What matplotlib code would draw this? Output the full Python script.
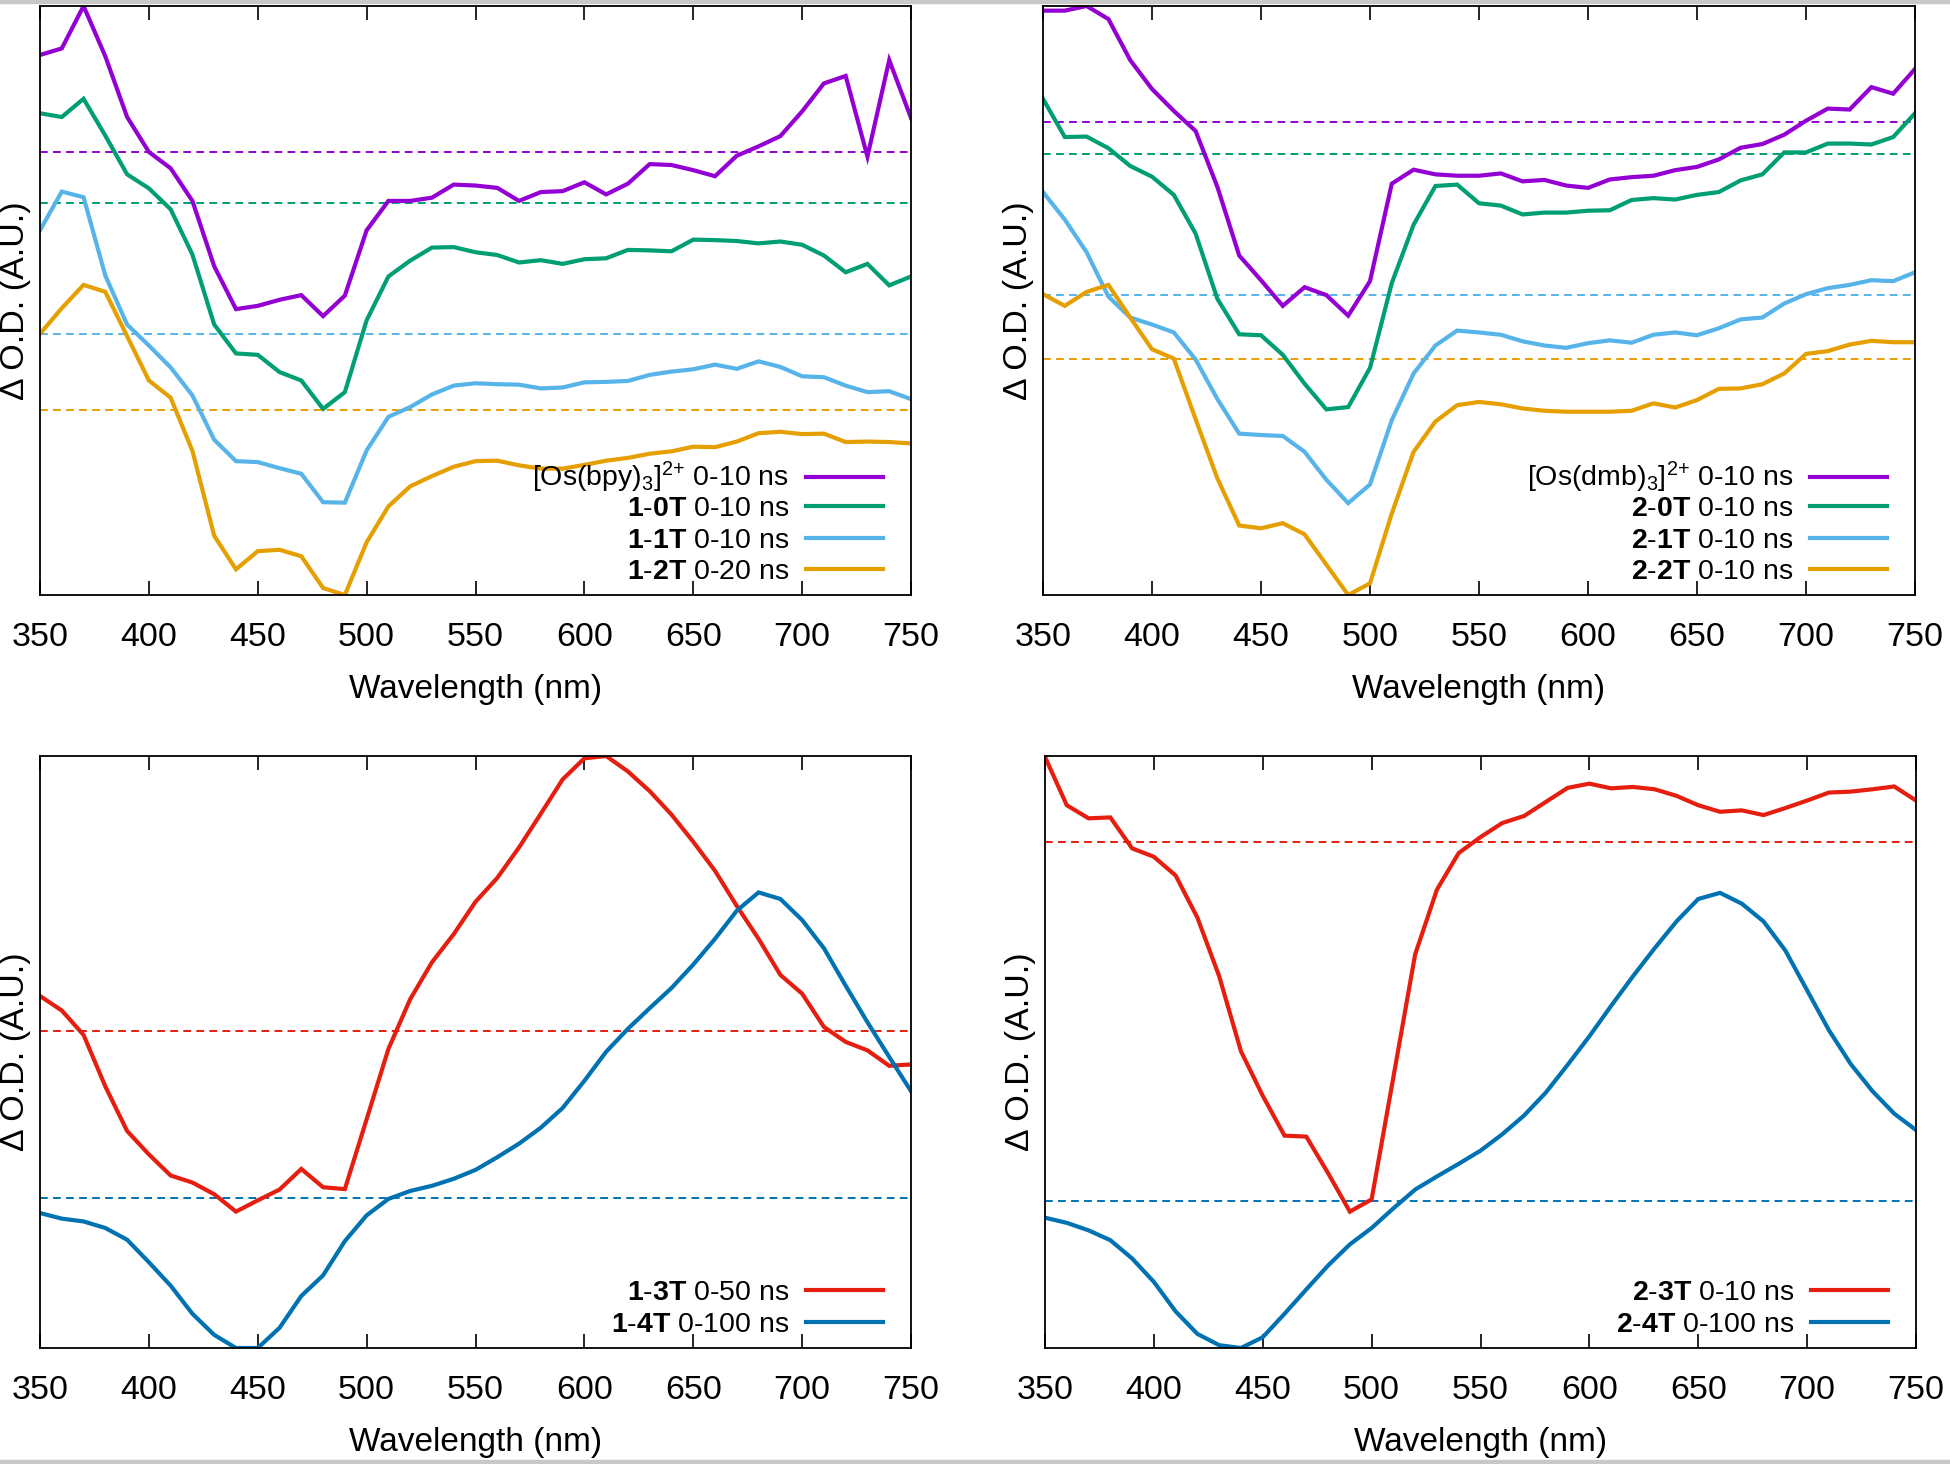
import matplotlib
matplotlib.use('Agg')
import matplotlib.pyplot as plt
from matplotlib.patches import Rectangle
from matplotlib.legend import Legend

plt.rcParams['font.family'] = ['Liberation Sans', 'DejaVu Sans']
plt.rcParams['mathtext.fontset'] = 'custom'
plt.rcParams['mathtext.rm'] = 'Liberation Sans'
plt.rcParams['mathtext.it'] = 'Liberation Sans:italic'
plt.rcParams['mathtext.bf'] = 'Liberation Sans:bold'
plt.rcParams['mathtext.default'] = 'regular'

# ---------------- data ----------------
wavelength = list(range(350, 751, 10))

# Panel A (top-left)
os_bpy = [115.8, 117.2, 126.3, 115.5, 102.5, 95.0, 91.5, 84.5, 70.5, 61.3,
          62.0, 63.3, 64.3, 59.8, 64.2, 78.2, 84.5, 84.5, 85.2, 88.0,
          87.8, 87.3, 84.5, 86.4, 86.6, 88.5, 85.9, 88.2, 92.4, 92.2,
          91.1, 89.8, 94.2, 96.2, 98.4, 103.7, 109.7, 111.3, 94.0, 114.7,
          102.3]
t1_0 = [103.3, 102.5, 106.4, 98.5, 90.2, 87.2, 82.7, 73.0, 58.0, 51.8,
        51.5, 47.8, 46.0, 39.9, 43.5, 58.9, 68.3, 71.7, 74.5, 74.6,
        73.5, 72.9, 71.3, 71.8, 71.0, 72.0, 72.2, 74.0, 73.9, 73.7,
        76.2, 76.1, 75.9, 75.4, 75.8, 75.1, 72.8, 69.2, 71.0, 66.4,
        68.3]
t1_1 = [78.2, 86.5, 85.3, 68.5, 58.0, 53.5, 48.8, 42.8, 33.3, 28.7,
        28.5, 27.2, 26.0, 19.9, 19.8, 31.0, 38.2, 40.3, 43.0, 44.9,
        45.4, 45.2, 45.1, 44.3, 44.5, 45.6, 45.7, 45.9, 47.2, 47.9,
        48.4, 49.4, 48.5, 50.1, 48.9, 46.9, 46.7, 44.9, 43.5, 43.7,
        42.0]
t1_2 = [56.0, 61.5, 66.5, 65.0, 55.5, 46.0, 42.3, 30.9, 12.7, 5.5,
        9.4, 9.7, 8.3, 1.5, 0.0, 11.3, 19.0, 23.3, 25.5, 27.5,
        28.7, 28.8, 27.8, 27.1, 27.1, 27.9, 28.8, 29.4, 30.3, 30.8,
        31.8, 31.7, 32.9, 34.7, 35.0, 34.5, 34.6, 32.8, 32.9, 32.8,
        32.5]
base_a = [95.0, 84.0, 55.9, 39.6]
labels_a = [r"[Os(bpy)$_3$]$^{2{+}}$ 0-10 ns",
            r"$\mathbf{1}$-$\mathbf{0T}$ 0-10 ns",
            r"$\mathbf{1}$-$\mathbf{1T}$ 0-10 ns",
            r"$\mathbf{1}$-$\mathbf{2T}$ 0-20 ns"]

# Panel B (top-right)
os_dmb = [125.3, 125.3, 126.3, 123.5, 114.7, 108.5, 103.8, 99.5, 87.5, 72.8,
          67.5, 62.0, 66.0, 64.3, 59.9, 67.3, 88.2, 91.2, 90.2, 89.9,
          89.9, 90.4, 88.7, 89.0, 87.8, 87.3, 89.1, 89.6, 89.9, 91.1,
          91.8, 93.4, 95.9, 96.7, 98.7, 101.7, 104.3, 104.1, 108.9, 107.5,
          112.8]
t2_0 = [106.4, 98.2, 98.3, 95.8, 92.0, 89.7, 85.8, 77.5, 63.5, 55.9,
        55.7, 51.5, 45.3, 39.8, 40.3, 48.7, 66.9, 79.4, 87.7, 88.0,
        84.0, 83.5, 81.6, 82.0, 82.0, 82.4, 82.5, 84.7, 85.1, 84.8,
        85.8, 86.4, 88.9, 90.2, 94.9, 94.9, 96.8, 96.8, 96.6, 98.2,
        103.3]
t2_1 = [86.4, 80.5, 73.5, 64.0, 59.5, 58.0, 56.3, 50.5, 42.0, 34.6,
        34.3, 34.1, 30.7, 24.7, 19.7, 23.7, 37.5, 47.5, 53.5, 56.7,
        56.3, 55.8, 54.4, 53.5, 53.0, 54.0, 54.6, 54.1, 55.8, 56.3,
        55.7, 57.2, 59.1, 59.5, 62.5, 64.5, 65.8, 66.5, 67.5, 67.3,
        69.2]
t2_2 = [64.5, 62.0, 65.0, 66.5, 59.5, 52.7, 50.7, 37.7, 25.0, 14.9,
        14.3, 15.4, 13.0, 6.5, 0.0, 2.5, 17.5, 30.7, 37.2, 40.7,
        41.4, 40.9, 40.0, 39.5, 39.3, 39.3, 39.3, 39.5, 41.1, 40.2,
        41.8, 44.2, 44.3, 45.2, 47.5, 51.7, 52.3, 53.7, 54.5, 54.2,
        54.2]
base_b = [101.4, 94.5, 64.4, 50.7]
labels_b = [r"[Os(dmb)$_3$]$^{2{+}}$ 0-10 ns",
            r"$\mathbf{2}$-$\mathbf{0T}$ 0-10 ns",
            r"$\mathbf{2}$-$\mathbf{1T}$ 0-10 ns",
            r"$\mathbf{2}$-$\mathbf{2T}$ 0-10 ns"]

# Panel C (bottom-left)
t1_3 = [75.1, 72.0, 66.8, 55.8, 46.3, 41.3, 36.8, 35.3, 32.8, 29.1,
        31.5, 33.8, 38.2, 34.3, 33.9, 48.8, 63.8, 74.4, 82.3, 88.3,
        95.2, 100.3, 106.8, 114.0, 121.3, 125.8, 126.3, 123.0, 118.8, 113.8,
        108.0, 101.8, 94.3, 87.3, 79.6, 75.6, 68.5, 65.3, 63.5, 60.2,
        60.5]
t1_4 = [28.8, 27.6, 27.0, 25.6, 23.1, 18.3, 13.3, 7.3, 2.8, 0.0,
        0.0, 4.3, 11.1, 15.5, 22.8, 28.3, 31.8, 33.5, 34.6, 36.1,
        38.0, 40.7, 43.6, 47.0, 51.2, 57.0, 63.2, 68.1, 72.5, 76.8,
        81.8, 87.3, 93.3, 97.2, 95.8, 91.3, 85.3, 77.3, 69.5, 62.1,
        54.8]
base_c = [67.6, 32.1]
labels_c = [r"$\mathbf{1}$-$\mathbf{3T}$ 0-50 ns",
            r"$\mathbf{1}$-$\mathbf{4T}$ 0-100 ns"]

# Panel D (bottom-right)
t2_3 = [126.1, 115.8, 113.0, 113.2, 106.6, 104.8, 100.8, 91.8, 79.3, 63.3,
        53.8, 45.3, 45.1, 37.3, 29.1, 31.7, 57.8, 84.0, 97.8, 105.6,
        109.0, 112.0, 113.5, 116.5, 119.5, 120.4, 119.4, 119.7, 119.2, 117.8,
        115.8, 114.4, 114.7, 113.7, 115.2, 116.8, 118.5, 118.7, 119.2, 119.8,
        116.8]
t2_4 = [27.8, 26.7, 25.1, 23.0, 19.1, 14.1, 7.8, 3.0, 0.6, 0.0,
        2.3, 7.3, 12.5, 17.6, 22.1, 25.6, 29.8, 33.8, 36.6, 39.3,
        42.1, 45.6, 49.6, 54.5, 60.4, 66.5, 73.0, 79.3, 85.3, 91.0,
        95.8, 97.1, 94.8, 91.0, 84.8, 76.3, 67.8, 60.6, 54.8, 50.0,
        46.5]
base_d = [107.9, 31.4]
labels_d = [r"$\mathbf{2}$-$\mathbf{3T}$ 0-10 ns",
            r"$\mathbf{2}$-$\mathbf{4T}$ 0-100 ns"]

xticks = [350, 400, 450, 500, 550, 600, 650, 700, 750]
xlabel = "Wavelength (nm)"
ylabel = "Δ O.D. (A.U.)"

colors4 = ['#9400D3', '#009E73', '#56B4E9', '#E69F00']
colors2 = ['#E51E10', '#0072B2']

# ---------------- figure ----------------
W, H = 1950, 1464
fig = plt.figure(figsize=(W / 100, H / 100), dpi=100)


def rect(x0, y0, x1, y1):
    return [x0 / W, 1 - y1 / H, (x1 - x0) / W, (y1 - y0) / H]


panels = [
    (rect(40, 6, 911, 595), [os_bpy, t1_0, t1_1, t1_2], base_a, labels_a, colors4),
    (rect(1043, 6, 1915, 595), [os_dmb, t2_0, t2_1, t2_2], base_b, labels_b, colors4),
    (rect(40, 756, 911, 1348), [t1_3, t1_4], base_c, labels_c, colors2),
    (rect(1045, 756, 1916, 1348), [t2_3, t2_4], base_d, labels_d, colors2),
]

# legend row centres (axes fraction), bottom row first
row_y = [0.0395, 0.0922, 0.1462, 0.1991]

for pos, series, bases, labels, cols in panels:
    ax = fig.add_axes(pos)
    for b, c in zip(bases, cols):
        ax.axhline(b, color=c, lw=1.4, dashes=(4, 2.7), zorder=1)
    lines = []
    for s, lab, c in zip(series, labels, cols):
        ln, = ax.plot(wavelength, s, color=c, lw=3.0, label=lab, zorder=2,
                      solid_joinstyle='miter')
        lines.append(ln)
    ax.set_xlim(350, 750)
    ax.set_ylim(0, 126.3)
    ax.set_xticks(xticks)
    ax.set_yticks([])
    ax.tick_params(axis='x', direction='in', length=10, width=1.2,
                   top=True, labelsize=24.5, pad=19.5, colors='black')
    for sp in ax.spines.values():
        sp.set_linewidth(1.3)
    ax.set_xlabel(xlabel, fontsize=24, labelpad=15)
    ax.set_ylabel(ylabel, fontsize=24.5)
    ax.yaxis.set_label_coords(-0.0105, 0.5)
    n = len(lines)
    for k, (ln, lab) in enumerate(zip(lines, labels)):
        leg = Legend(ax, [ln], [lab], loc='center right',
                     bbox_to_anchor=(0.968, row_y[n - 1 - k]),
                     frameon=False, markerfirst=False, fontsize=20.5,
                     handlelength=2.7, handletextpad=0.6,
                     borderpad=0, borderaxespad=0)
        ax.add_artist(leg)

# light gray bands at top and bottom edges
fig.add_artist(Rectangle((0, 1 - 3 / H), 1, 3 / H, transform=fig.transFigure,
                         color='#c8c8c8', zorder=10))
fig.add_artist(Rectangle((0, 0), 1, 4 / H, transform=fig.transFigure,
                         color='#c8c8c8', zorder=10))

fig.savefig('out.png', dpi=100)
